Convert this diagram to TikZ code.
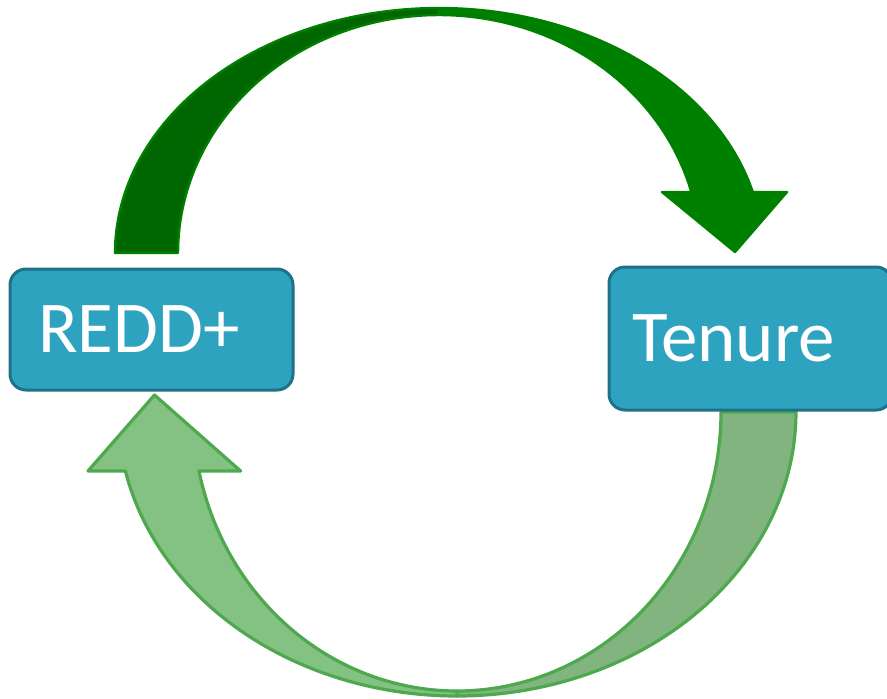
\documentclass[tikz,border=0pt]{standalone}
\usepackage{fontspec}
\setmainfont{Carlito}
\usepackage{tikz}
\usetikzlibrary{positioning}

\definecolor{boxfill}{HTML}{2EA3C0}
\definecolor{boxline}{HTML}{1F7089}
\definecolor{fwdfront}{HTML}{008000}
\definecolor{fwdback}{HTML}{006600}
\definecolor{retfront}{HTML}{84C283}
\definecolor{retback}{HTML}{81B47E}
\definecolor{retline}{HTML}{4EA84E}

\begin{document}
\begin{tikzpicture}[
    x=0.5pt, y=-0.5pt,
    box/.style={rectangle, draw=boxline, fill=boxfill, line width=1.5pt, rounded corners=8pt, minimum width=141.5pt, text width=113.5pt, inner xsep=14pt, align=left, text=white, font=\fontsize{36.5}{40}\selectfont},
    fwd/.style={draw=fwdfront, line width=1.2pt, line join=round},
    ret/.style={draw=retline, line width=1.6pt, line join=round},
]
\useasboundingbox (0,0) rectangle (887,698);

% Forward arrow (REDD+ -> Tenure), back part first
\filldraw[fwd, fill=fwdback]
    plot[domain=180:90, samples=60] ({439+324*cos(\x)},{253-245*sin(\x)})
    -- plot[domain=90:180, samples=60] ({439+261*cos(\x)},{253-238*sin(\x)}) -- cycle;
\filldraw[fwd, fill=fwdfront]
    plot[domain=90:14.4, samples=60] ({439+324*cos(\x)},{253-245*sin(\x)})
    -- (787,192) -- (735,252) -- (662,192)
    -- plot[domain=14.85:90, samples=60] ({439+261*cos(\x)},{253-238*sin(\x)}) -- cycle;

% Return arrow (Tenure -> REDD+), back part first
\filldraw[ret, fill=retback]
    plot[domain=0:90, samples=60] ({457+339*cos(\x)},{412+284*sin(\x)})
    -- plot[domain=90:0, samples=60] ({457+264*cos(\x)},{412+279*sin(\x)}) -- cycle;
\filldraw[ret, fill=retfront]
    plot[domain=90:168, samples=60] ({457+339*cos(\x)},{412+284*sin(\x)})
    -- (88,471) -- (154.5,395) -- (240.6,471)
    -- plot[domain=167.8:90, samples=60] ({457+264*cos(\x)},{412+279*sin(\x)}) -- cycle;

% Boxes
\node[box, minimum height=60.5pt] (redd) at (151.5,329.5) {REDD+};
\node[box, minimum height=71.5pt, inner xsep=11.5pt, text width=118.5pt, right=156.5pt of redd, yshift=-4.5pt] (tenure) {Tenure};

\end{tikzpicture}
\end{document}
